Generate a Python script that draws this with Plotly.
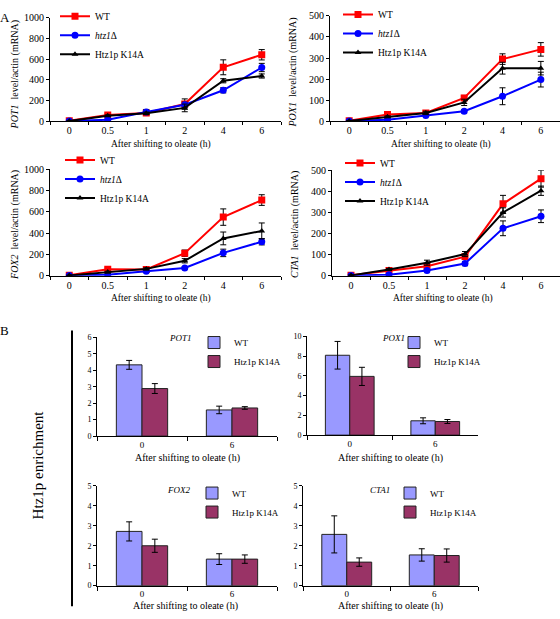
import plotly.graph_objects as go

W, H = 560, 619

# ---------------- data ----------------
time_labels = ["0", "0.5", "1", "2", "4", "6"]
bar_labels = ["0", "6"]
line_names = ["WT", "<i>htz1</i>Δ", "Htz1p K14A"]
bar_names = ["WT", "Htz1p K14A"]

pot1_wt = [5, 62, 80, 167, 522, 643]
pot1_wt_err = [4, 10, 15, 50, 72, 50]
pot1_htz = [3, 15, 90, 160, 300, 520]
pot1_htz_err = [3, 5, 25, 25, 25, 40]
pot1_k14 = [3, 55, 78, 130, 392, 438]
pot1_k14_err = [3, 8, 12, 37, 20, 20]

pox1_wt = [3, 32, 40, 111, 295, 341]
pox1_wt_err = [2, 5, 5, 12, 25, 32]
pox1_htz = [2, 8, 28, 48, 119, 198]
pox1_htz_err = [2, 3, 5, 8, 40, 35]
pox1_k14 = [2, 22, 40, 90, 252, 252]
pox1_k14_err = [2, 4, 8, 15, 28, 32]

fox2_wt = [5, 62, 60, 212, 551, 711]
fox2_wt_err = [4, 12, 10, 30, 77, 50]
fox2_htz = [3, 10, 43, 74, 215, 320]
fox2_htz_err = [3, 4, 8, 10, 35, 30]
fox2_k14 = [3, 35, 65, 141, 351, 421]
fox2_k14_err = [3, 8, 10, 20, 60, 75]

cta1_wt = [3, 25, 45, 91, 341, 460]
cta1_wt_err = [2, 5, 8, 10, 40, 40]
cta1_htz = [2, 5, 25, 58, 225, 282]
cta1_htz_err = [2, 3, 5, 10, 35, 30]
cta1_k14 = [2, 30, 62, 103, 300, 403]
cta1_k14_err = [2, 5, 12, 12, 22, 22]

b_pot1_wt = [4.33, 1.59]
b_pot1_wt_err = [0.27, 0.23]
b_pot1_k14 = [2.89, 1.71]
b_pot1_k14_err = [0.30, 0.08]

b_pox1_wt = [8.09, 1.45]
b_pox1_wt_err = [1.40, 0.30]
b_pox1_k14 = [5.95, 1.38]
b_pox1_k14_err = [0.92, 0.20]

b_fox2_wt = [2.72, 1.33]
b_fox2_wt_err = [0.48, 0.27]
b_fox2_k14 = [2.00, 1.33]
b_fox2_k14_err = [0.33, 0.21]

b_cta1_wt = [2.57, 1.54]
b_cta1_wt_err = [0.93, 0.31]
b_cta1_k14 = [1.18, 1.51]
b_cta1_k14_err = [0.21, 0.33]

# ---------------- styling ----------------
FONT = "Liberation Serif"
line_colors = ["#FF0000", "#0000FF", "#000000"]
line_symbols = ["square", "circle", "triangle-up"]
line_msize = [7, 7, 6]
bar_colors = ["#9999FF", "#993366"]


def xd(a, b):
    return [a / W, b / W]


def yd(top, bot):
    return [1 - bot / H, 1 - top / H]


fig = go.Figure()

# (gene, series, x-domain px, (y top px, y bottom px), ymax, dtick,
#  legend (left px, middle px), y-title pos, x-title pos)
line_panels = [
    ("POT1", [(pot1_wt, pot1_wt_err), (pot1_htz, pot1_htz_err), (pot1_k14, pot1_k14_err)],
     (50, 281), (10, 116), 1000, 200, (55, 28), (15, 68), (161, 140)),
    ("POX1", [(pox1_wt, pox1_wt_err), (pox1_htz, pox1_htz_err), (pox1_k14, pox1_k14_err)],
     (330, 560), (8, 116), 500, 100, (338, 26), (293, 66), (441, 140)),
    ("FOX2", [(fox2_wt, fox2_wt_err), (fox2_htz, fox2_htz_err), (fox2_k14, fox2_k14_err)],
     (50, 281), (165, 274), 1000, 200, (60, 175), (15, 222), (161, 297)),
    ("CTA1", [(cta1_wt, cta1_wt_err), (cta1_htz, cta1_htz_err), (cta1_k14, cta1_k14_err)],
     (332, 560), (166, 274), 500, 100, (340, 178), (295, 222), (443, 297)),
]

bar_panels = [
    ("POT1", [(b_pot1_wt, b_pot1_wt_err), (b_pot1_k14, b_pot1_k14_err)],
     (97, 277), (337, 438), 6, 1, (194, 352), (180, 338), (187, 460)),
    ("POX1", [(b_pox1_wt, b_pox1_wt_err), (b_pox1_k14, b_pox1_k14_err)],
     (307, 478), (336, 437), 10, 2, (394, 352), (393, 338), (390, 460)),
    ("FOX2", [(b_fox2_wt, b_fox2_wt_err), (b_fox2_k14, b_fox2_k14_err)],
     (97, 277), (489, 591), 5, 1, (192, 506), (178, 493), (185, 612)),
    ("CTA1", [(b_cta1_wt, b_cta1_wt_err), (b_cta1_k14, b_cta1_k14_err)],
     (303, 478), (489, 591), 5, 1, (390, 506), (380, 493), (390, 612)),
]

annotations = []
layout_axes = {}
legends = {}
idx = 0

for gene, series, xdom, ydom_px, ymax, dtick, lpos, ytpos, xtpos in line_panels:
    idx += 1
    sfx = "" if idx == 1 else str(idx)
    lg = "legend" if idx == 1 else f"legend{idx}"
    for i, (vals, errs) in enumerate(series):
        fig.add_trace(go.Scatter(
            x=time_labels, y=vals, name=line_names[i],
            xaxis="x" + sfx, yaxis="y" + sfx, legend=lg,
            mode="lines+markers",
            line=dict(color=line_colors[i], width=2),
            marker=dict(symbol=line_symbols[i], size=line_msize[i], color=line_colors[i]),
            error_y=dict(type="data", array=errs, color="black", thickness=1, width=3),
        ))
    layout_axes["xaxis" + sfx] = dict(
        domain=xd(*xdom), anchor="y" + sfx, type="category", range=[-0.5, 5.5],
        tickson="boundaries", ticks="outside", ticklen=3, tickcolor="black",
        showline=True, linecolor="black", linewidth=1, showgrid=False, zeroline=False,
        tickfont=dict(family=FONT, size=10, color="black"),
    )
    layout_axes["yaxis" + sfx] = dict(
        domain=yd(*ydom_px), anchor="x" + sfx, range=[0, ymax], dtick=dtick,
        ticks="outside", ticklen=3, tickcolor="black",
        showline=True, linecolor="black", linewidth=1, showgrid=False, zeroline=False,
        tickfont=dict(family=FONT, size=10, color="black"),
    )
    legends[lg] = dict(
        x=lpos[0] / W, y=1 - lpos[1] / H, xanchor="left", yanchor="middle",
        bgcolor="rgba(0,0,0,0)", borderwidth=0,
        font=dict(family=FONT, size=9.5, color="black"),
    )
    annotations.append(dict(
        text=f"<i>{gene}</i>  level/actin (mRNA)", x=ytpos[0] / W, y=1 - ytpos[1] / H,
        xref="paper", yref="paper", textangle=-90, showarrow=False,
        font=dict(family=FONT, size=10, color="black"), xanchor="center", yanchor="middle",
    ))
    annotations.append(dict(
        text="After shifting to oleate (h)", x=xtpos[0] / W, y=1 - xtpos[1] / H,
        xref="paper", yref="paper", showarrow=False,
        font=dict(family=FONT, size=9.5, color="black"), xanchor="center", yanchor="middle",
    ))

for gene, series, xdom, ydom_px, ymax, dtick, lpos, gpos, xtpos in bar_panels:
    idx += 1
    sfx = str(idx)
    lg = f"legend{idx}"
    for i, (vals, errs) in enumerate(series):
        fig.add_trace(go.Bar(
            x=bar_labels, y=vals, name=bar_names[i],
            xaxis="x" + sfx, yaxis="y" + sfx, legend=lg, offsetgroup=str(i),
            marker=dict(color=bar_colors[i], line=dict(color="#222222", width=1)),
            error_y=dict(type="data", array=errs, color="black", thickness=1, width=3),
        ))
    layout_axes["xaxis" + sfx] = dict(
        domain=xd(*xdom), anchor="y" + sfx, type="category", range=[-0.5, 1.5],
        tickson="boundaries", ticks="outside", ticklen=4, tickcolor="black",
        showline=True, linecolor="black", linewidth=1, showgrid=False, zeroline=False,
        tickfont=dict(family=FONT, size=9, color="black"),
    )
    layout_axes["yaxis" + sfx] = dict(
        domain=yd(*ydom_px), anchor="x" + sfx, range=[0, ymax], dtick=dtick,
        ticks="outside", ticklen=3, tickcolor="black",
        showline=True, linecolor="black", linewidth=1, showgrid=False, zeroline=False,
        tickfont=dict(family=FONT, size=8, color="black"),
    )
    legends[lg] = dict(
        x=lpos[0] / W, y=1 - lpos[1] / H, xanchor="left", yanchor="middle",
        bgcolor="rgba(0,0,0,0)", borderwidth=0,
        font=dict(family=FONT, size=9, color="black"),
    )
    annotations.append(dict(
        text=f"<i>{gene}</i>", x=gpos[0] / W, y=1 - gpos[1] / H,
        xref="paper", yref="paper", showarrow=False,
        font=dict(family=FONT, size=9, color="black"), xanchor="center", yanchor="middle",
    ))
    annotations.append(dict(
        text="After shifting to oleate (h)", x=xtpos[0] / W, y=1 - xtpos[1] / H,
        xref="paper", yref="paper", showarrow=False,
        font=dict(family=FONT, size=10, color="black"), xanchor="center", yanchor="middle",
    ))

# panel letters and shared label
annotations.append(dict(text="A", x=-2 / W, y=1 - 0 / H, xref="paper", yref="paper",
                        showarrow=False, xanchor="left", yanchor="top",
                        font=dict(family=FONT, size=13, color="black")))
annotations.append(dict(text="B", x=-2 / W, y=1 - 320 / H, xref="paper", yref="paper",
                        showarrow=False, xanchor="left", yanchor="top",
                        font=dict(family=FONT, size=13, color="black")))
annotations.append(dict(text="Htz1p enrichment", x=38 / W, y=1 - 468 / H,
                        xref="paper", yref="paper", textangle=-90, showarrow=False,
                        xanchor="center", yanchor="middle",
                        font=dict(family=FONT, size=15, color="black")))

fig.update_layout(
    width=W, height=H, margin=dict(l=0, r=0, t=0, b=0),
    paper_bgcolor="white", plot_bgcolor="white",
    barmode="group", bargap=0.43, bargroupgap=0,
    annotations=annotations,
    shapes=[dict(type="line", xref="paper", yref="paper",
                 x0=72 / W, x1=72 / W, y0=1 - 612 / H, y1=1 - 330 / H,
                 line=dict(color="black", width=2))],
    **layout_axes,
    **legends,
)

fig.write_html(
    "out.html",
    config={"displayModeBar": False},
    post_script="document.body.style.margin='0';document.body.style.overflow='hidden';",
)
